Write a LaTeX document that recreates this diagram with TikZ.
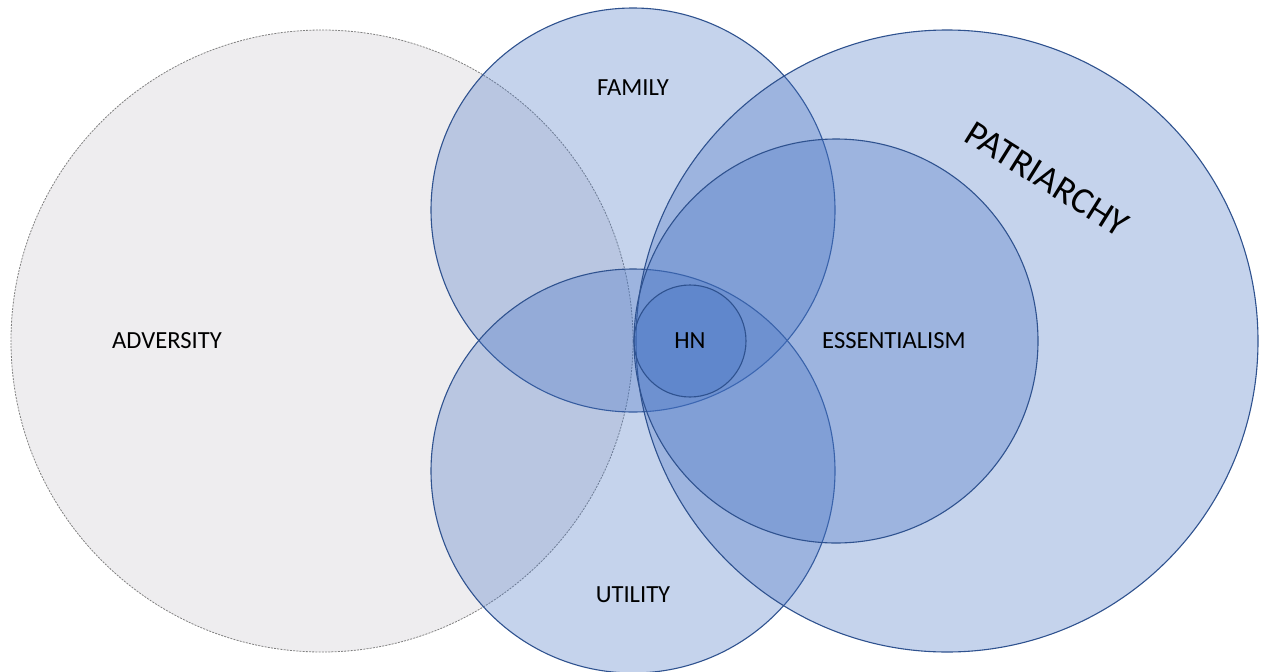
\documentclass[tikz,border=0pt]{standalone}
\usepackage{fontspec}
\setmainfont{Carlito}
\definecolor{setblue}{HTML}{4472C4}
\definecolor{setline}{HTML}{2F528F}
\definecolor{advfill}{HTML}{EEEDEF}
\definecolor{advline}{HTML}{808080}
\begin{document}
\begin{tikzpicture}[x=1pt,y=-1pt,
  setcircle/.style={circle, inner sep=0pt, fill=setblue, fill opacity=0.31,
    draw=setline, draw opacity=1, line width=1.1pt},
  advcircle/.style={circle, inner sep=0pt, fill=advfill,
    draw=advline, dash pattern=on 2pt off 1.2pt, line width=0.8pt},
  setlabel/.style={text=black, font=\fontsize{24.6}{24.6}\selectfont, inner sep=0pt}]
  \useasboundingbox[fill=white] (0,0) rectangle (1264,672);
  % the surrounding sets
  \node[advcircle, minimum size=622pt] (adv) at (322,341) {};
  \node[setcircle, minimum size=404pt] (fam) at (633,210) {};
  \node[setcircle, minimum size=404pt] (uti) at (633,471) {};
  \node[setcircle, minimum size=622pt] (pat) at (947,341) {};
  \node[setcircle, minimum size=404pt] (ess) at (836,341) {};
  \node[setcircle, minimum size=112pt] (hn) at (690,341) {};
  % set names
  \node[setlabel] (advlbl) at (167,341) {ADVERSITY};
  \node[setlabel] (famlbl) at (633,88) {FAMILY};
  \node[setlabel] (utilbl) at (633,595) {UTILITY};
  \node[setlabel] (esslbl) at (894,341) {ESSENTIALISM};
  \node[setlabel] (hnlbl) at (690,341) {HN};
  \node[setlabel, font=\fontsize{37}{37}\selectfont, rotate=-32] (patlbl) at (1047,179) {PATRIARCHY};
\end{tikzpicture}
\end{document}
